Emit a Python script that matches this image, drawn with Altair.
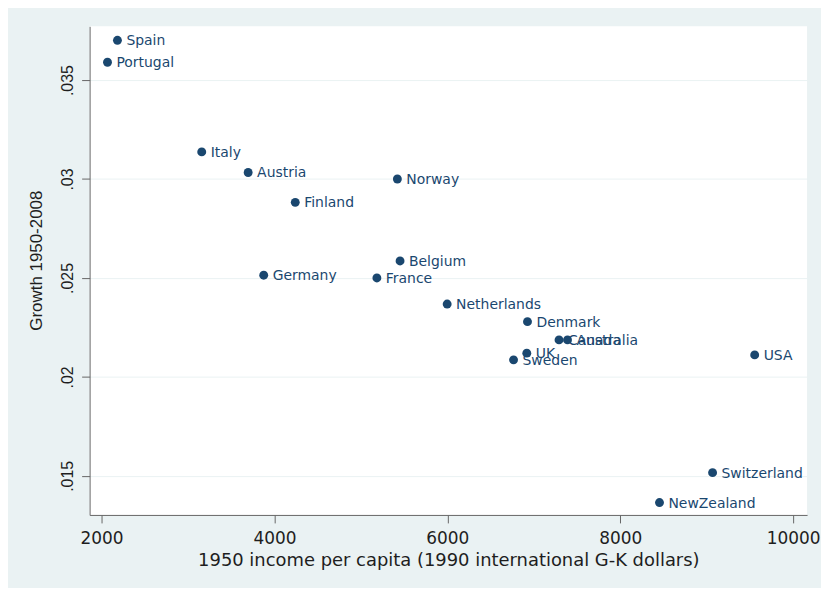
import altair as alt
import pandas as pd

countries = ["Spain", "Portugal", "Italy", "Austria", "Norway", "Finland",
             "Belgium", "Germany", "France", "Netherlands", "Denmark",
             "Canada", "Australia", "UK", "Sweden", "USA", "Switzerland",
             "NewZealand"]
income = [2184, 2069, 3159, 3696, 5422, 4241,
          5453, 3876, 5185, 5998, 6927,
          7292, 7390, 6919, 6766, 9555, 9068,
          8454]
growth = [0.03701, 0.0359, 0.03137, 0.03033, 0.0300, 0.02882,
          0.02586, 0.02514, 0.0250, 0.02368, 0.02279,
          0.02187, 0.02187, 0.0212, 0.02086, 0.02111, 0.01516,
          0.01365]

x_ticks = [2000, 4000, 6000, 8000, 10000]
y_ticks = [0.015, 0.02, 0.025, 0.03, 0.035]

df = pd.DataFrame({"country": countries, "income": income, "growth": growth})

navy = "#1a476f"
bg = "#eaf2f3"

x_enc = alt.X(
    "income:Q",
    scale=alt.Scale(domain=[1862, 10161], nice=False, zero=False),
    axis=alt.Axis(
        values=x_ticks,
        format="d",
        title="1950 income per capita (1990 international G-K dollars)",
        grid=False,
        domainColor="#666666",
        tickColor="#666666",
        tickSize=8,
        labelPadding=8,
        labelFont="DejaVu Sans",
        labelFontSize=17,
        labelColor="#1e1e1e",
        labelOverlap=False,
        titleFont="DejaVu Sans",
        titleFontSize=18,
        titleFontWeight="normal",
        titleColor="#1e1e1e",
        titlePadding=5,
    ),
)
y_enc = alt.Y(
    "growth:Q",
    scale=alt.Scale(domain=[0.013023, 0.037716], nice=False, zero=False),
    axis=alt.Axis(
        values=y_ticks,
        title="Growth 1950-2008",
        labelExpr="substring(format(datum.value, '.3~f'), 1)",
        grid=True,
        gridColor=bg,
        gridWidth=1,
        domainColor="#666666",
        tickColor="#666666",
        tickSize=8,
        labelPadding=9,
        labelAngle=270,
        labelAlign="center",
        labelBaseline="alphabetic",
        labelFont="Liberation Sans",
        labelFontSize=16,
        labelColor="#1e1e1e",
        titleFont="Liberation Sans",
        titleFontSize=17,
        titleFontWeight="normal",
        titleColor="#1e1e1e",
        titlePadding=14,
        titleY=235,
    ),
)

points = alt.Chart(df).mark_circle(size=80, color=navy, opacity=1).encode(
    x=x_enc, y=y_enc
)
labels = alt.Chart(df).mark_text(
    align="left", baseline="middle", dx=9, dy=1,
    font="DejaVu Sans", fontSize=14, color=navy
).encode(x="income:Q", y="growth:Q", text="country:N")

chart = (
    (points + labels)
    .properties(
        width=721,
        height=491,
        background=bg,
        padding={"left": 82, "top": 17, "right": 14, "bottom": 72},
        autosize=alt.AutoSizeParams(type="none"),
    )
    .configure_view(fill="white", stroke=None)
)

chart.save("out.html", embed_options={"renderer": "svg", "actions": False})
